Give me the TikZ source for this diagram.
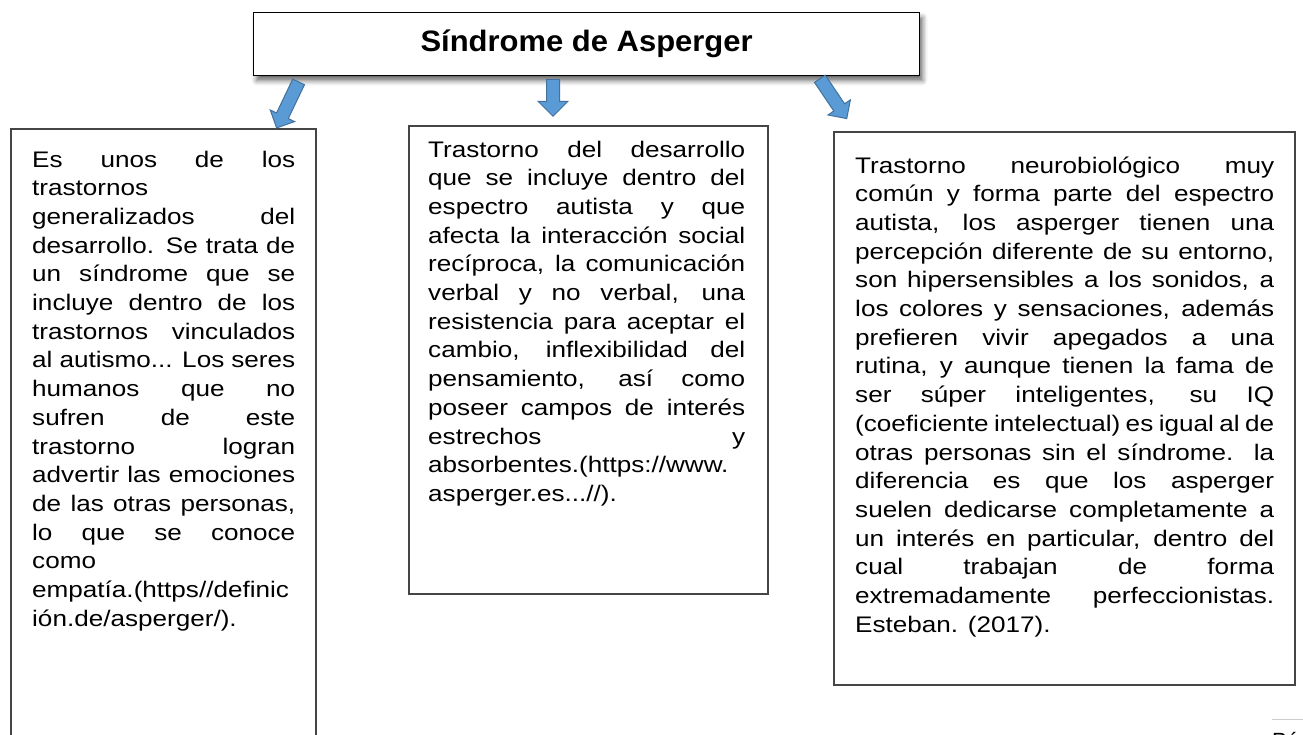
\documentclass[tikz,border=0pt]{standalone}
\usepackage{fontspec}
\setmainfont{Liberation Sans}
\newfontfamily\panelfont{Liberation Sans}[FakeStretch=1.16]
\newfontfamily\headfont{Liberation Sans}[FakeStretch=1.05]
\usepackage{xcolor}
\usetikzlibrary{
	shapes.arrows,shadows.blur
}
\definecolor{arrowblue}{HTML}{5B9BD5}
\definecolor{arrowedge}{HTML}{41719C}
\definecolor{panelgray}{HTML}{454545}
\tikzset{
	panel/.style={draw=panelgray, line width=1.5pt, anchor=north west, inner sep=0pt},
	paneltext/.style={anchor=base west, inner sep=0pt, align=justify,
		font=\panelfont\fontsize{22.5}{28.7}\selectfont},
	bluearrow/.style={single arrow, draw=arrowedge, fill=arrowblue, line width=1pt,
		inner xsep=0pt, inner ysep=6pt, single arrow head extend=7pt,
		midway, sloped, allow upside down}
}
\tolerance=10000
\hbadness=10000
\hyphenpenalty=10000

\begin{document}
\begin{tikzpicture}[x=1pt,y=-1pt]
\useasboundingbox (0,0) rectangle (1303,734);
\clip (0,0) rectangle (1303,734);
%
\node[draw=black, line width=1.2pt, fill=white, minimum width=666, minimum height=63,
	anchor=north west, blur shadow={shadow xshift=3pt, shadow yshift=-5pt, shadow blur radius=5pt, shadow opacity=60},
	font=\headfont\bfseries\fontsize{29.5}{30}\selectfont] (title) at (253,12) {Síndrome de Asperger};
%
\node[panel, minimum width=305, minimum height=700] (lbox) at (10,128) {};
\node[panel, minimum width=359, minimum height=468] (mbox) at (408,125) {};
\node[panel, minimum width=461, minimum height=553] (rbox) at (833,131) {};
%
\node[paneltext, text width=263] (ltext) at ([xshift=22pt,yshift=-39pt]lbox.north west) {%
Es unos de los\linebreak
trastornos\linebreak
generalizados del\linebreak
desarrollo. Se trata de\linebreak
un síndrome que se\linebreak
incluye dentro de los\linebreak
trastornos vinculados\linebreak
al autismo... Los seres\linebreak
humanos que no\linebreak
sufren de este\linebreak
trastorno logran\linebreak
advertir las emociones\linebreak
de las otras personas,\linebreak
lo que se conoce\linebreak
como\linebreak
empatía.(https//definic\linebreak
ión.de/asperger/).};
\node[paneltext, text width=317] (mtext) at ([xshift=20pt,yshift=-32pt]mbox.north west) {%
Trastorno del desarrollo\linebreak
que se incluye dentro del\linebreak
espectro autista y que\linebreak
afecta la interacción social\linebreak
recíproca, la comunicación\linebreak
verbal y no verbal, una\linebreak
resistencia para aceptar el\linebreak
cambio, inflexibilidad del\linebreak
pensamiento, así como\linebreak
poseer campos de interés\linebreak
estrechos y\linebreak
absorbentes.(https://www.\linebreak
asperger.es...//).};
\node[paneltext, text width=419] (rtext) at ([xshift=22pt,yshift=-42pt]rbox.north west) {%
Trastorno neurobiológico muy\linebreak
común y forma parte del espectro\linebreak
autista, los asperger tienen una\linebreak
percepción diferente de su entorno,\linebreak
son hipersensibles a los sonidos, a\linebreak
los colores y sensaciones, además\linebreak
prefieren vivir apegados a una\linebreak
rutina, y aunque tienen la fama de\linebreak
ser súper inteligentes, su IQ\linebreak
(coeficiente intelectual) es igual al de\linebreak
otras personas sin el síndrome. la\linebreak
diferencia es que los asperger\linebreak
suelen dedicarse completamente a\linebreak
un interés en particular, dentro del\linebreak
cual trabajan de forma\linebreak
extremadamente perfeccionistas.\linebreak
Esteban. (2017).};
%
\coordinate (la0) at (300,79);
\coordinate (la1) at (278,125);
\coordinate (ma0) at (553,76);
\coordinate (ma1) at (553,113);
\coordinate (ra0) at (818,76);
\coordinate (ra1) at (845,116);
\path (la0) -- (la1) node[bluearrow, minimum height=51] (larrow) {};
\path (ma0) -- (ma1) node[bluearrow, minimum height=37, single arrow head extend=8.5pt] (marrow) {};
\path (ra0) -- (ra1) node[bluearrow, minimum height=48] (rarrow) {};
%
\node[anchor=base west, inner sep=0pt, font=\fontsize{22}{22}\selectfont] (pagenum) at (1272,748) {Pá};
\draw[black!20, line width=1.5pt] ([yshift=12pt]pagenum.north west) -- ++(40,0);
\end{tikzpicture}
\end{document}
